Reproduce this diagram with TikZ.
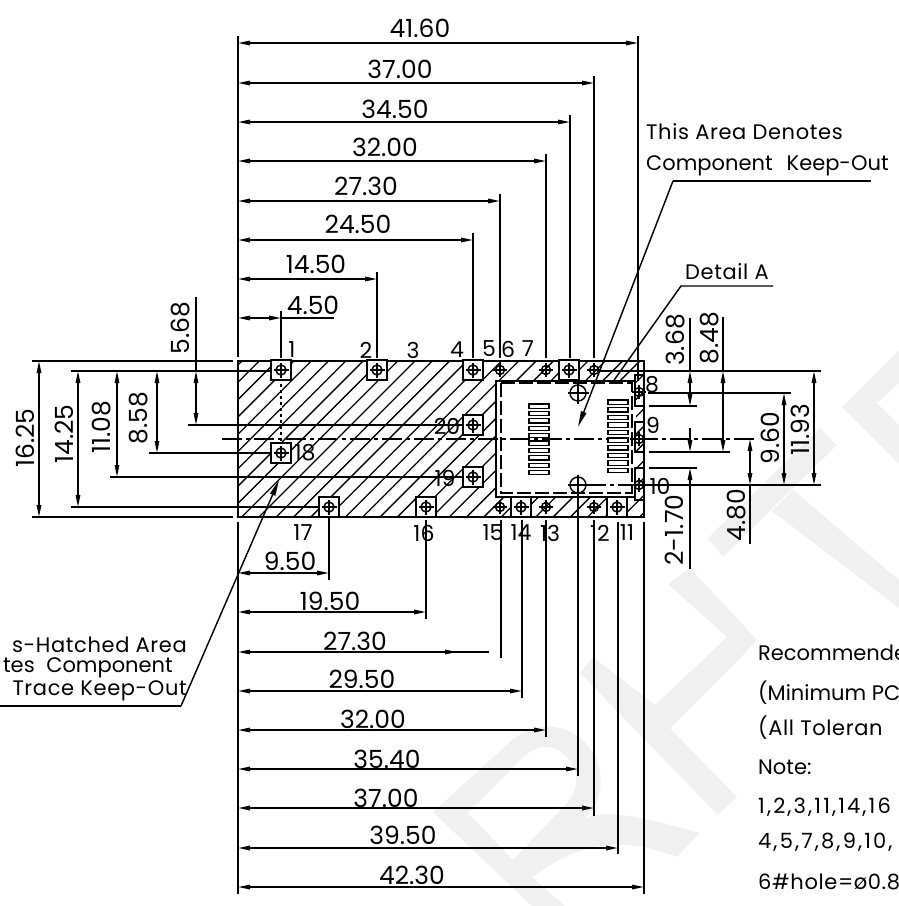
\documentclass[tikz,border=0pt]{standalone}
\usepackage{fontspec}
\usetikzlibrary{arrows.meta}
\setmainfont{Poppins}
\newfontfamily\numf{Poppins}[FakeStretch=1.0]
\newfontfamily\notep{Poppins}[WordSpace=2.5]
\newfontfamily\notew{Poppins}[WordSpace=3,LetterSpace=3]
\newfontfamily\notel{Poppins}[LetterSpace=10]
\newfontfamily\noteh{Poppins}[LetterSpace=3]
\definecolor{wm}{HTML}{F0F0F0}
\tikzset{
  ln/.style={line width=1.45pt,black},
  thick line/.style={line width=1.8pt,black},
  tipa/.tip={Stealth[length=12pt,width=4.5pt,inset=0pt]},
  dimline/.style={ln,{tipa}-{tipa}},
  endtip/.style={ln,-{tipa}},
  leader/.style={ln,-{Stealth[length=16pt,width=5.5pt,inset=0pt]}},
  ctr/.style={line width=1.3pt,dash pattern=on 20pt off 4pt on 4pt off 4pt},
  numlab/.style={font=\numf\fontsize{25}{25}\selectfont,inner sep=0pt,anchor=center},
  padlab/.style={font=\numf\fontsize{22}{22}\selectfont,inner sep=0pt,anchor=center},
  notelab/.style={font=\fontsize{21}{21}\selectfont,inner sep=0pt},
  squarepad/.style={line width=1.45pt,draw=black,fill=white},
}
\newcommand{\holecross}[3]{% x y r
  \draw[ln] (#1,#2) circle (#3pt);
  \draw[ln] (#1-#3-2.5,#2) -- (#1+#3+2.5,#2) (#1,#2-#3-2.5) -- (#1,#2+#3+2.5);}
\newcommand{\sqpad}[2]{%
  \draw[squarepad] (#1-10,#2-10) rectangle (#1+10,#2+10);
  \holecross{#1}{#2}{5}}
\begin{document}
\begin{tikzpicture}[x=1pt,y=-1pt]
\path[use as bounding box] (0,0) rectangle (899,906);
\clip (0,0) rectangle (899,906);
% watermark
\fill[wm] (842,407)--(899,350)--(899,383)--(877,403)--(899,425)--(899,464)--cycle;
\fill[wm] (708,538)--(820,428)--(837,445)--(723,557)--cycle;
\fill[wm] (793,490)--(899,580)--(899,608)--(772,511)--cycle;
\fill[wm] (668,584)--(690,568)--(757,640)--(743,655)--(727,637)--cycle;
\fill[wm] (580,673)--(593,657)--(655,705)--(727,637)--(743,655)--(670,728)--(737,797)--(718,815)--cycle;
\fill[wm,even odd rule] (433,812)--(510,742) .. controls (540,715) and (580,725) .. (597,760) .. controls (605,785) and (600,805) .. (583,820) .. controls (600,810) and (625,812) .. (700,833)--(677,857) .. controls (630,840) and (590,835) .. (532,877)--(565,906)--(532,906)--cycle
  (468,813)--(513,860)--(565,805) .. controls (580,790) and (580,770) .. (565,755) .. controls (550,742) and (535,745) .. (520,760)--cycle;
% hatched board
\begin{scope}
\clip (238,361) rectangle (644,517);
\foreach \k in {-11,...,23}{
  \pgfmathsetmacro{\c}{776+17.3*\k}
  \draw[line width=1.3pt] (\c-300,300) -- (\c-600,600);
}
\end{scope}
\fill[white] (496,381) rectangle (636,497);
\draw[thick line] (238,361) rectangle (644,517);
\draw[thick line] (636,381) -- (496,381) -- (496,497) -- (636,497);
\draw[ln,dash pattern=on 14pt off 4pt] (501,383) rectangle (632,493);
% centre lines
\draw[ctr] (222,439) -- (758,439);
\draw[ctr,white,line width=1.6pt] (281,370) -- (281,453);
\draw[ln,dash pattern=on 3pt off 3pt] (281,372) -- (281,453);
% connector slots
\foreach \i in {0,...,9}{
  \draw[line width=1.3pt,fill=white] (529,404+7.4*\i) rectangle (549,404+7.4*\i+4.2);
  \draw[line width=1.3pt,fill=white] (608,400+7.6*\i) rectangle (628,400+7.6*\i+4.4);
}
% edge contacts
\draw[ln] (635,375) rectangle (644,406);
\draw[ln] (635,422) rectangle (644,452);
\draw[ln] (635,468) rectangle (644,500);
% pads
\sqpad{281}{370}\sqpad{377}{370}\sqpad{473}{370}\sqpad{569}{370}
\sqpad{473}{425}\sqpad{473}{477}\sqpad{281}{453}
\sqpad{329}{507}\sqpad{426}{507}\sqpad{521}{507}\sqpad{617}{507}
\holecross{500}{370}{4.5}\holecross{546}{370}{4.5}\holecross{594}{370}{4.5}
\holecross{500}{507}{4.5}\holecross{546}{507}{4.5}\holecross{594}{507}{4.5}
\holecross{639}{392}{4.5}\holecross{639}{439}{4.5}\holecross{639}{485}{4.5}
\holecross{578}{393}{8}\holecross{578}{485}{8}
\draw[ctr] (586,485) -- (635,485);
% extension lines top
\draw[ln] (238,36) -- (238,357);
\draw[ln] (638,36) -- (638,381);
\foreach \x/\t in {594/76,570/115,546/154,500/194,473/233,377/272,281/311}{
  \draw[ln] (\x,\t) -- (\x,358);
}
% top dimensions
\foreach \x/\y/\lx/\ly/\s in {638/43/420/28/41.60,594/83/400/69/37.00,570/122/395/109/34.50,546/161/385/147/32.00,500/201/366/186/27.30,473/240/358/224/24.50,377/279/316/264/14.50}{
  \draw[dimline] (238,\y) -- (\x,\y);
  \node[numlab] at (\lx,\ly) {\s};
}
\draw[dimline] (238,318) -- (281,318);
\draw[ln] (281,318) -- (334,318);
\node[numlab] at (313,305) {4.50};
% extension lines bottom
\draw[ln] (238,522) -- (238,894);
\draw[ln] (644,522) -- (644,894);
\foreach \x/\t/\b in {329/517/580,426/520/619,501/520/658,522/520/698,546/520/737,578/493/776,594/520/816,618/522/854}{
  \draw[ln] (\x,\t) -- (\x,\b);
}
% bottom dimensions
\foreach \x/\y/\lx/\ly/\s in {329/573/290/561/9.50,426/612/330/601/19.50,522/691/362/679/29.50,546/730/373/719/32.00,578/769/387/759/35.40,594/808/386/798/37.00,618/848/403/835/39.50,644/887/412/875/42.30}{
  \draw[dimline] (238,\y) -- (\x,\y);
  \node[numlab] at (\lx,\ly) {\s};
}
\draw[ln,{tipa}-] (238,652) -- (489,652);
\draw[endtip] (440,652) -- (457,652);
\node[numlab] at (355,641) {27.30};
% left extension lines
\draw[ln] (32,361) -- (233,361);
\draw[ln] (32,517) -- (233,517);
\draw[ln] (71,371) -- (271,371);
\draw[ln] (71,507) -- (319,507);
\draw[ln] (110,477) -- (463,477);
\draw[ln] (149,453) -- (271,453);
\draw[ln] (188,425) -- (463,425);
% left dimensions
\draw[dimline] (39,361) -- (39,517);
\node[numlab,rotate=90] at (25,438) {16.25};
\draw[dimline] (78,371) -- (78,507);
\node[numlab,rotate=90] at (64,434) {14.25};
\draw[dimline] (117,371) -- (117,477);
\node[numlab,rotate=90] at (102,427) {11.08};
\draw[dimline] (157,371) -- (157,453);
\node[numlab,rotate=90] at (139,418) {8.58};
\draw[ln] (196,297) -- (196,371);
\draw[dimline] (196,371) -- (196,425);
\node[numlab,rotate=90] at (181,328) {5.68};
% right extension lines
\draw[thick line] (600,371) -- (821,371);
\draw[thick line] (644,485) -- (821,485);
\draw[ln] (648,393) -- (791,393);
\draw[ln] (649,452) -- (730,452);
\draw[ln] (649,406) -- (697,406);
\draw[ln] (649,468) -- (697,468);
% right dimensions
\draw[ln] (690,318) -- (690,371);
\draw[dimline] (690,371) -- (690,406);
\node[numlab,rotate=90] at (676,340) {3.68};
\draw[ln] (723,317) -- (723,371);
\draw[dimline] (723,371) -- (723,452);
\node[numlab,rotate=90] at (710,338) {8.48};
\draw[dimline] (784,393) -- (784,485);
\node[numlab,rotate=90] at (770,438) {9.60};
\draw[dimline] (814,371) -- (814,485);
\node[numlab,rotate=90] at (800,430) {11.93};
\draw[dimline] (750,439) -- (750,485);
\draw[ln] (750,485) -- (750,544);
\node[numlab,rotate=90] at (737,515) {4.80};
\draw[endtip] (690,428) -- (690,452);
\draw[endtip] (690,569) -- (690,468);
\node[numlab,rotate=90] at (674,530) {2-1.70};
% pad labels
\foreach \x/\y/\s in {292/350/1,366/350/2,413/350/3,457/350/4,489/349/5,508/349/6,528/349/7,652/385/8,653/425/9,660/486/10,447/426/20,445/478/19,305/453/18,303/533/17,424/533/16,493/533/15,521/533/14,550/533/13,600/533/12,627/533/11}{
  \node[padlab] at (\x,\y) {\s};
}
% leaders
\coordinate (keepA) at (673,181);
\coordinate (keepB) at (871,181);
\coordinate (keepTip) at (578,427);
\draw[ln] (keepB) -- (keepA);
\draw[leader] (keepA) -- (keepTip);
\coordinate (detA) at (681,286);
\coordinate (detB) at (773,286);
\coordinate (detTip) at (612,383);
\draw[ln] (detB) -- (detA) -- (detTip);
\coordinate (hatchA) at (181,706);
\coordinate (hatchB) at (0,706);
\coordinate (hatchTip) at (279,480);
\draw[ln] (hatchB) -- (hatchA);
\draw[leader] (hatchA) -- (hatchTip);
% notes
\node[notelab,anchor=west] at (646,132) {\notew This Area Denotes};
\node[notelab,anchor=west] at (646,166) {\notep Component Keep-Out};
\node[notelab,anchor=west] at (685,272) {\notew Detail A};
\node[notelab,anchor=east] at (187,645) {\notew s-Hatched Area};
\node[notelab,anchor=east] at (173,668) {tes\hspace{6pt} Component};
\node[notelab,anchor=east] at (187,691) {\notew Trace Keep-Out};
\node[notelab,anchor=west] at (758,653) {Recommende};
\node[notelab,anchor=west] at (758,693) {(Minimum PC};
\node[notelab,anchor=west] at (758,728) {\notew (All Toleran};
\node[notelab,anchor=west] at (758,767) {Note:};
\node[notelab,anchor=west] at (758,807) {\notel 1,2,3,11,14,16};
\node[notelab,anchor=west] at (758,842) {\notel 4,5,7,8,9,10,};
\node[notelab,anchor=west] at (758,882) {\noteh 6\#hole=ø0.8};
\end{tikzpicture}
\end{document}
